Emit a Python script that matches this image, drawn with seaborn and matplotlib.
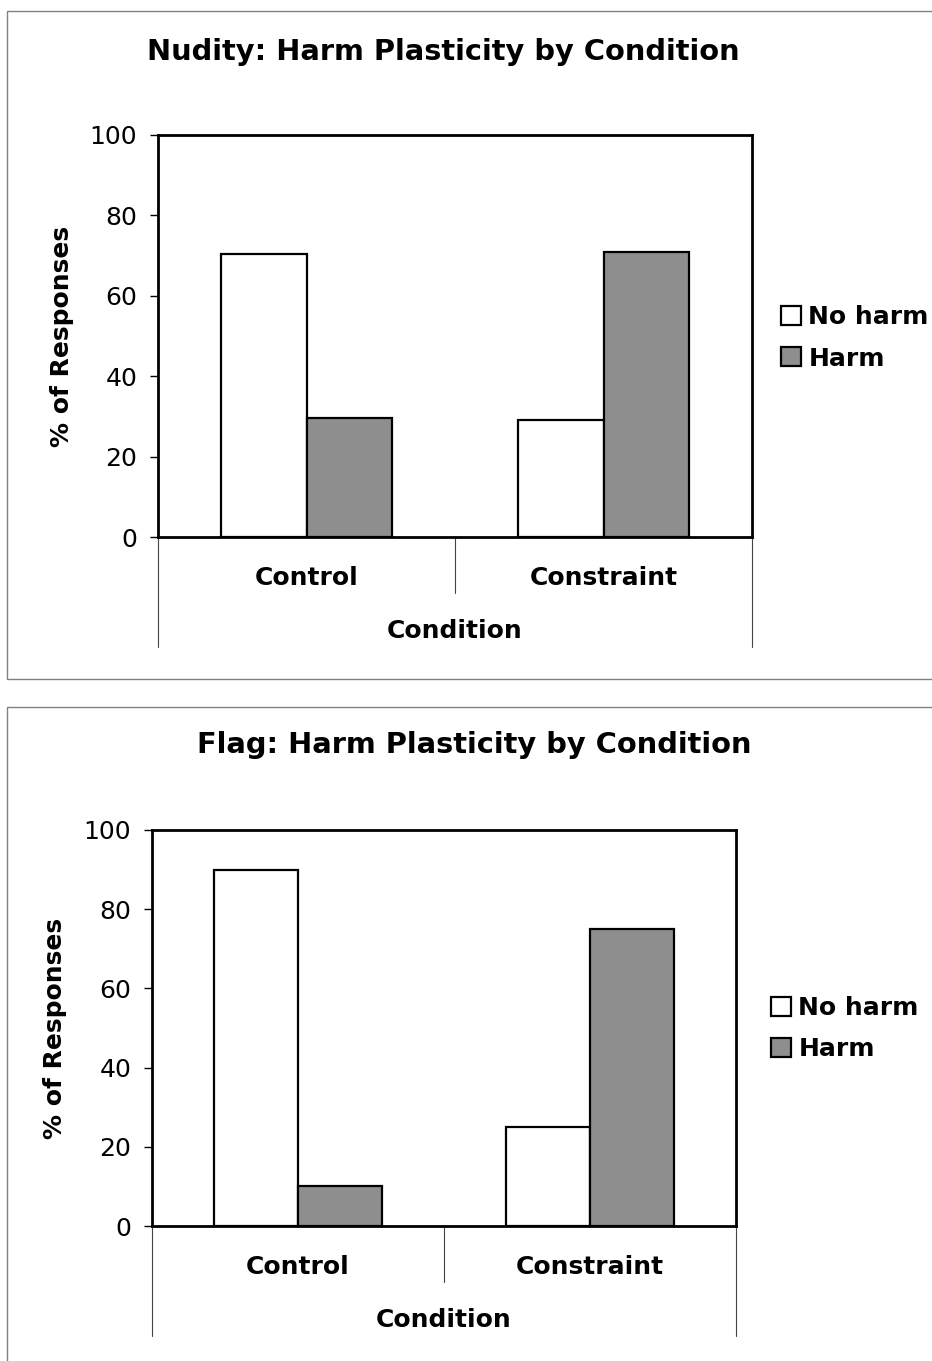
import matplotlib
matplotlib.use("Agg")
import matplotlib.pyplot as plt
import matplotlib.patches as mpatches
import seaborn as sns
import pandas as pd

# ---- data ----
conditions = ["Control", "Constraint"]
responses = ["No harm", "Harm"]
nudity_no_harm = [70.5, 29.0]
nudity_harm = [29.5, 71.0]
flag_no_harm = [90.0, 25.0]
flag_harm = [10.0, 75.0]
titles = ["Nudity: Harm Plasticity by Condition", "Flag: Harm Plasticity by Condition"]
yticks = [0, 20, 40, 60, 80, 100]


def make_df(no_harm, harm):
    rows = []
    for c, a, b in zip(conditions, no_harm, harm):
        rows.append({"Condition": c, "Response": "No harm", "Percent": a})
        rows.append({"Condition": c, "Response": "Harm", "Percent": b})
    return pd.DataFrame(rows)


sns.set_theme(style="white")
plt.rcParams["font.family"] = ["DejaVu Sans"]
plt.rcParams["text.color"] = "black"
plt.rcParams["axes.labelcolor"] = "black"
plt.rcParams["xtick.color"] = "black"
plt.rcParams["ytick.color"] = "black"

W, H = 932, 1361
fig = plt.figure(figsize=(W / 100, H / 100), dpi=100)
fig.patch.set_facecolor("white")

palette = {"No harm": "white", "Harm": "#8e8e8e"}

panels = [
    dict(df=make_df(nudity_no_harm, nudity_harm), title=titles[0],
         ax=(158, 135, 752, 537), title_xy=(443, 52), box=(7, 11, 960, 679),
         leg=(781, 305), ylab_x=74),
    dict(df=make_df(flag_no_harm, flag_harm), title=titles[1],
         ax=(152, 830, 736, 1226), title_xy=(474, 745), box=(7, 707, 960, 1400),
         leg=(771, 996), ylab_x=67),
]

for p in panels:
    x0, y0, x1, y1 = p["ax"]
    ax = fig.add_axes([x0 / W, 1 - y1 / H, (x1 - x0) / W, (y1 - y0) / H])
    sns.barplot(data=p["df"], x="Condition", y="Percent", hue="Response",
                order=conditions, hue_order=responses, palette=palette,
                edgecolor="black", linewidth=1.6, width=0.575, saturation=1,
                errorbar=None, ax=ax)
    ax.set_ylim(0, 100)
    ax.set_xlim(-0.5, 1.5)
    ax.set_yticks(yticks)
    ax.set_yticklabels([str(v) for v in yticks], fontsize=18)
    ax.tick_params(axis="y", direction="out", length=6, width=1, left=True, pad=9, color="black")
    ax.tick_params(axis="x", length=0, pad=21)
    for lab in ax.get_xticklabels():
        lab.set_fontweight("bold")
        lab.set_fontsize(18)
    for s in ax.spines.values():
        s.set_visible(True)
        s.set_color("black")
        s.set_linewidth(2.0)
    ax.set_xlabel("Condition", fontsize=18, fontweight="bold", labelpad=21)
    ax.set_ylabel("% of Responses", fontsize=18, fontweight="bold")
    ax.yaxis.set_label_coords((p["ylab_x"] - x0) / (x1 - x0), 0.5)
    # category separators below the axis
    tr = ax.get_xaxis_transform()
    h_ax = (y1 - y0)
    ax.plot([-0.5, -0.5], [0, -110 / h_ax], transform=tr, color="#444444", lw=0.8, clip_on=False)
    ax.plot([1.5, 1.5], [0, -110 / h_ax], transform=tr, color="#444444", lw=0.8, clip_on=False)
    ax.plot([0.5, 0.5], [0, -56 / h_ax], transform=tr, color="#444444", lw=0.8, clip_on=False)
    # legend
    lx, ly = p["leg"]
    handles, labels = ax.get_legend_handles_labels()
    ax.legend(handles, labels, loc="upper left", frameon=False,
              bbox_to_anchor=((lx - x0) / (x1 - x0), (y1 - ly) / (y1 - y0)),
              borderpad=0, borderaxespad=0, handlelength=0.8, handleheight=0.8,
              handletextpad=0.3, labelspacing=0.7,
              prop={"weight": "bold", "size": 18})
    # title
    tx, ty = p["title_xy"]
    fig.text(tx / W, 1 - ty / H, p["title"], ha="center", va="center",
             fontsize=20.8, fontweight="bold")
    # panel border
    bx0, by0, bx1, by1 = p["box"]
    fig.patches.append(mpatches.Rectangle((bx0 / W, 1 - by1 / H), (bx1 - bx0) / W, (by1 - by0) / H,
                                          transform=fig.transFigure, fill=False,
                                          edgecolor="#808080", lw=1.0, figure=fig))

fig.savefig("out.png", dpi=100, facecolor="white")
